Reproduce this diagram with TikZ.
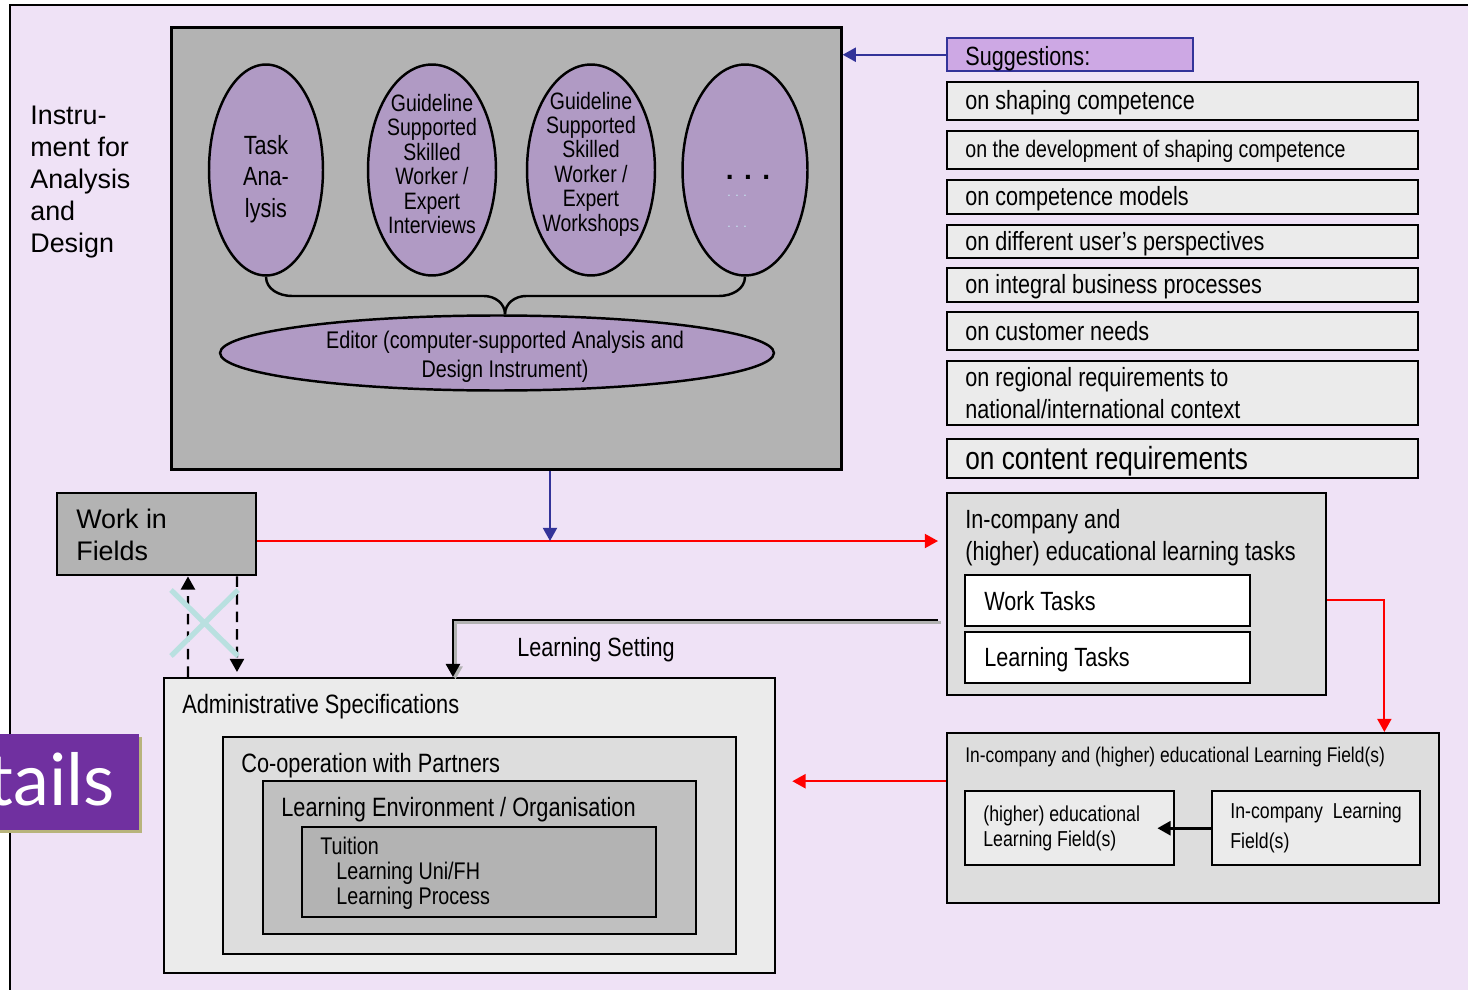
\documentclass[tikz,border=0pt]{standalone}
\usepackage{fontspec}
\setmainfont{Liberation Sans}
\newfontfamily\narrow[FakeStretch=0.82]{Liberation Sans}
\newfontfamily\tailsfont{Lato}
\usetikzlibrary{arrows.meta,shapes.geometric}
\definecolor{lavbg}{HTML}{EFE2F6}
\definecolor{boxgray}{HTML}{B3B3B3}
\definecolor{ovalfill}{HTML}{B09AC4}
\definecolor{suggfill}{HTML}{CDA8E4}
\definecolor{suggblue}{HTML}{333399}
\definecolor{lightbox}{HTML}{EBEBEB}
\definecolor{midbox}{HTML}{DDDDDD}
\definecolor{envbox}{HTML}{C0C0C0}
\definecolor{tailpurple}{HTML}{7030A0}
\definecolor{tailshadow}{HTML}{B8B47C}
\definecolor{crosscyan}{HTML}{B9E0E0}
\definecolor{dotcyan}{HTML}{C8EEF4}
\begin{document}
\begin{tikzpicture}[x=0.02cm,y=-0.02cm,
    box/.style={draw,line width=1.4pt,inner sep=0pt,anchor=north west},
    oval/.style={ellipse,draw,line width=1.4pt,fill=ovalfill,inner sep=0pt},
    txt/.style={inner sep=0pt,align=left},
    ovaltxt/.style={inner sep=0pt,align=center},
    tip/.style={-{Triangle[length=7.5pt,width=8pt]}},
    redarrow/.style={tip,red,line width=1.1pt},
    bluearrow/.style={tip,suggblue,line width=1.2pt},
    blackarrow/.style={tip,black,line width=1.5pt},
    dasharrow/.style={tip,black,line width=1.3pt,dash pattern=on 6pt off 4pt}]
    \fill[white] (0,0) rectangle (1468,990);
    \useasboundingbox (0,0) rectangle (1468,990);
    \draw[line width=1.4pt,fill=lavbg] (10,5) rectangle (1500,1010);

    % analysis and design instrument
    \node[box,fill=boxgray,line width=1.6pt,minimum width=13.4cm,minimum height=8.84cm] (instr) at (170,26) {};
    \node[txt,anchor=north west,font=\fontsize{15.3}{18.1}\selectfont] (instrtxt) at (30,106) {Instru-\\ment for\\Analysis\\and\\Design};
    \node[oval,minimum width=2.28cm,minimum height=4.22cm] (task) at (266,170) {};
    \node[oval,minimum width=2.56cm,minimum height=4.22cm] (interv) at (432,170) {};
    \node[oval,minimum width=2.56cm,minimum height=4.22cm] (worksh) at (591,170) {};
    \node[oval,minimum width=2.5cm,minimum height=4.22cm] (more) at (745,170) {};
    \node[oval,minimum width=11.08cm,minimum height=1.5cm] (editor) at (497,353) {};
    \node[ovaltxt,font=\narrow\fontsize{15}{18}\selectfont] (tasktxt) at (266,179) {Task\\Ana-\\lysis};
    \node[ovaltxt,font=\narrow\fontsize{13.5}{13.9}\selectfont] (intervtxt) at (432,164) {Guideline\\Supported\\Skilled\\Worker /\\Expert\\Interviews};
    \node[ovaltxt,font=\narrow\fontsize{13.5}{13.9}\selectfont] (workshtxt) at (591,164) {Guideline\\Supported\\Skilled\\Worker /\\Expert\\Workshops};
    \node[ovaltxt,font=\bfseries\fontsize{16}{16}\selectfont] (moredots) at (748,177) {. . .};
    \node[ovaltxt,text=dotcyan,font=\fontsize{7}{7}\selectfont] (moredotsa) at (737,196) {. . .};
    \node[ovaltxt,text=dotcyan,font=\fontsize{7}{7}\selectfont] (moredotsb) at (737,227) {. . .};
    \node[ovaltxt,font=\narrow\fontsize{13.7}{16.5}\selectfont] (editortxt) at (505,357) {Editor (computer-supported Analysis and\\Design Instrument)};
    \draw[line width=1.4pt] (task.south) to[out=-90,in=180] (292,296) -- (484,296) to[out=0,in=90] ([xshift=0.16cm]editor.north);
    \draw[line width=1.4pt] (more.south) to[out=-90,in=0] (719,296) -- (526,296) to[out=180,in=90] ([xshift=0.16cm]editor.north);

    % suggestions
    \node[box,draw=suggblue,fill=suggfill,minimum width=4.92cm,minimum height=0.66cm] (sugg) at (946,37) {};
    \node[txt,anchor=west,font=\narrow\fontsize{15}{18}\selectfont] (suggtxt) at ([xshift=0.38cm,yshift=-0.08cm]sugg.west) {Suggestions:};
    \draw[bluearrow] (sugg.west) -- (sugg.west -| instr.east);
    \node[box,fill=lightbox,minimum width=9.42cm,minimum height=0.76cm] (sga) at (946,81) {};
    \node[box,fill=lightbox,minimum width=9.42cm,minimum height=0.76cm] (sgb) at (946,130) {};
    \node[box,fill=lightbox,minimum width=9.42cm,minimum height=0.68cm] (sgc) at (946,179) {};
    \node[box,fill=lightbox,minimum width=9.42cm,minimum height=0.66cm] (sgd) at (946,224) {};
    \node[box,fill=lightbox,minimum width=9.42cm,minimum height=0.68cm] (sge) at (946,267) {};
    \node[box,fill=lightbox,minimum width=9.42cm,minimum height=0.76cm] (sgf) at (946,311) {};
    \node[box,fill=lightbox,minimum width=9.42cm,minimum height=1.28cm] (sgg) at (946,360) {};
    \node[box,fill=lightbox,minimum width=9.42cm,minimum height=0.78cm] (sgh) at (946,438) {};
    \node[txt,anchor=west,font=\narrow\fontsize{15}{18}\selectfont] (sgatxt) at ([xshift=0.38cm,yshift=-0.03cm]sga.west) {on shaping competence};
    \node[txt,anchor=west,font=\narrow\fontsize{13.6}{18}\selectfont] (sgbtxt) at ([xshift=0.38cm,yshift=-0.03cm]sgb.west) {on the development of shaping competence};
    \node[txt,anchor=west,font=\narrow\fontsize{15}{18}\selectfont] (sgctxt) at ([xshift=0.38cm,yshift=-0.03cm]sgc.west) {on competence models};
    \node[txt,anchor=west,font=\narrow\fontsize{15}{18}\selectfont] (sgdtxt) at ([xshift=0.38cm,yshift=-0.03cm]sgd.west) {on different user’s perspectives};
    \node[txt,anchor=west,font=\narrow\fontsize{15}{18}\selectfont] (sgetxt) at ([xshift=0.38cm,yshift=-0.03cm]sge.west) {on integral business processes};
    \node[txt,anchor=west,font=\narrow\fontsize{15}{18}\selectfont] (sgftxt) at ([xshift=0.38cm]sgf.west) {on customer needs};
    \node[txt,anchor=west,font=\narrow\fontsize{15}{18}\selectfont] (sggtxt) at ([xshift=0.38cm]sgg.west) {on regional requirements to\\national/international context};
    \node[txt,anchor=west,font=\narrow\fontsize{18.2}{20}\selectfont] (sghtxt) at ([xshift=0.38cm,yshift=-0.06cm]sgh.west) {on content requirements};

    % work and learning tasks
    \node[box,fill=boxgray,minimum width=3.98cm,minimum height=1.64cm] (work) at (56,492) {};
    \node[txt,anchor=north west,font=\fontsize{15.3}{18.1}\selectfont] (worktxt) at (76,509) {Work in\\Fields};
    \node[box,fill=midbox,minimum width=7.58cm,minimum height=4.04cm] (tasks) at (946,492) {};
    \node[txt,anchor=north west,font=\narrow\fontsize{15}{18}\selectfont] (taskstxt) at (965,509) {In-company and\\(higher) educational learning tasks};
    \node[box,fill=white,minimum width=5.7cm,minimum height=1.02cm] (worktasks) at (964,574) {};
    \node[box,fill=white,minimum width=5.7cm,minimum height=1.02cm] (learntasks) at (964,631) {};
    \node[txt,anchor=west,font=\narrow\fontsize{15}{18}\selectfont] (worktaskstxt) at ([xshift=0.4cm]worktasks.west) {Work Tasks};
    \node[txt,anchor=west,font=\narrow\fontsize{15}{18}\selectfont] (learntaskstxt) at ([xshift=0.4cm,yshift=-0.04cm]learntasks.west) {Learning Tasks};
    \coordinate (redmid) at (550,541);
    \draw[redarrow,shorten >=0.16cm] (work.east |- redmid) -- (tasks.west |- redmid);
    \draw[bluearrow] (instr.south -| redmid) -- (redmid);

    % learning fields
    \node[box,fill=midbox,minimum width=9.84cm,minimum height=3.4cm] (fields) at (946,732) {};
    \node[txt,anchor=north west,font=\narrow\fontsize{12.1}{15}\selectfont] (fieldstxt) at (965,747) {In-company and (higher) educational Learning Field(s)};
    \node[box,fill=lightbox,minimum width=4.18cm,minimum height=1.48cm] (higherlf) at (964,790) {};
    \node[box,fill=lightbox,minimum width=4.16cm,minimum height=1.48cm] (incomplf) at (1211,790) {};
    \node[txt,anchor=west,font=\narrow\fontsize{12.3}{14}\selectfont] (higherlftxt) at ([xshift=0.38cm]higherlf.west) {(higher) educational\\Learning Field(s)};
    \node[txt,anchor=west,font=\narrow\fontsize{12.3}{17}\selectfont] (incomplftxt) at ([xshift=0.38cm]incomplf.west) {In-company~~Learning\\Field(s)};
    \draw[blackarrow,shorten >=-0.36cm] (incomplf.west) -- (higherlf.east);
    \coordinate (tasksout) at ([yshift=-0.12cm]tasks.east);
    \draw[redarrow] (tasksout) -| ([xshift=-1.12cm]fields.north east);
    \coordinate (fieldsout) at ([yshift=0.74cm]fields.west);

    % administrative specifications
    \node[box,fill=lightbox,minimum width=12.22cm,minimum height=5.9cm] (admin) at (163,677) {};
    \node[box,fill=midbox,minimum width=10.26cm,minimum height=4.34cm] (coop) at (222,736) {};
    \node[box,fill=envbox,minimum width=8.66cm,minimum height=3.06cm] (lenv) at (262,780) {};
    \node[box,fill=boxgray,minimum width=7.08cm,minimum height=1.8cm] (tuition) at (301,826) {};
    \node[txt,anchor=north west,font=\narrow\fontsize{15.1}{18}\selectfont] (admintxt) at (182,694) {Administrative Specifications};
    \node[txt,anchor=north west,font=\narrow\fontsize{15.1}{18}\selectfont] (cooptxt) at (241,753) {Co-operation with Partners};
    \node[txt,anchor=north west,font=\narrow\fontsize{15.1}{18}\selectfont] (lenvtxt) at (281,797) {Learning Environment / Organisation};
    \node[txt,anchor=north west,font=\narrow\fontsize{13.7}{14.2}\selectfont] (tuitiontxt) at (320,837) {Tuition\\\hspace{0.32cm}Learning Uni/FH\\\hspace{0.32cm}Learning Process};
    \draw[redarrow,shorten >=0.32cm] (fieldsout) -- (fieldsout -| admin.east);

    % learning setting
    \coordinate (lsetin) at (938,620);
    \coordinate (lsetend) at ([xshift=5.8cm]admin.north west);
    \draw[tip,gray!60,line width=2pt,transform canvas={xshift=0.05cm,yshift=-0.05cm}] (lsetin) -| (lsetend);
    \draw[blackarrow] (lsetin) -| (lsetend);
    \node[txt,font=\narrow\fontsize{15}{18}\selectfont] (lsettxt) at (596,650) {Learning Setting};

    % work in fields <-> administration
    \draw[dasharrow] ([xshift=0.5cm]admin.north west) -- ([xshift=2.64cm]work.south west);
    \draw[dasharrow,shorten >=0.1cm] ([xshift=3.62cm]work.south west) -- ([xshift=1.48cm]admin.north west);
    \draw[crosscyan,line width=3pt] (171,590) -- (238,656) (171,656) -- (238,590);

    % cut-off title tab
    \fill[tailshadow] (-5,737) rectangle (142,833);
    \node[box,draw=none,fill=tailpurple,minimum width=2.86cm,minimum height=1.92cm] (tails) at (-5,733) {};
    \node[inner sep=0pt,anchor=base east,text=white,font=\tailsfont\fontsize{41}{41}\selectfont] (tailstxt) at (115,805) {tails};
\end{tikzpicture}
\end{document}
